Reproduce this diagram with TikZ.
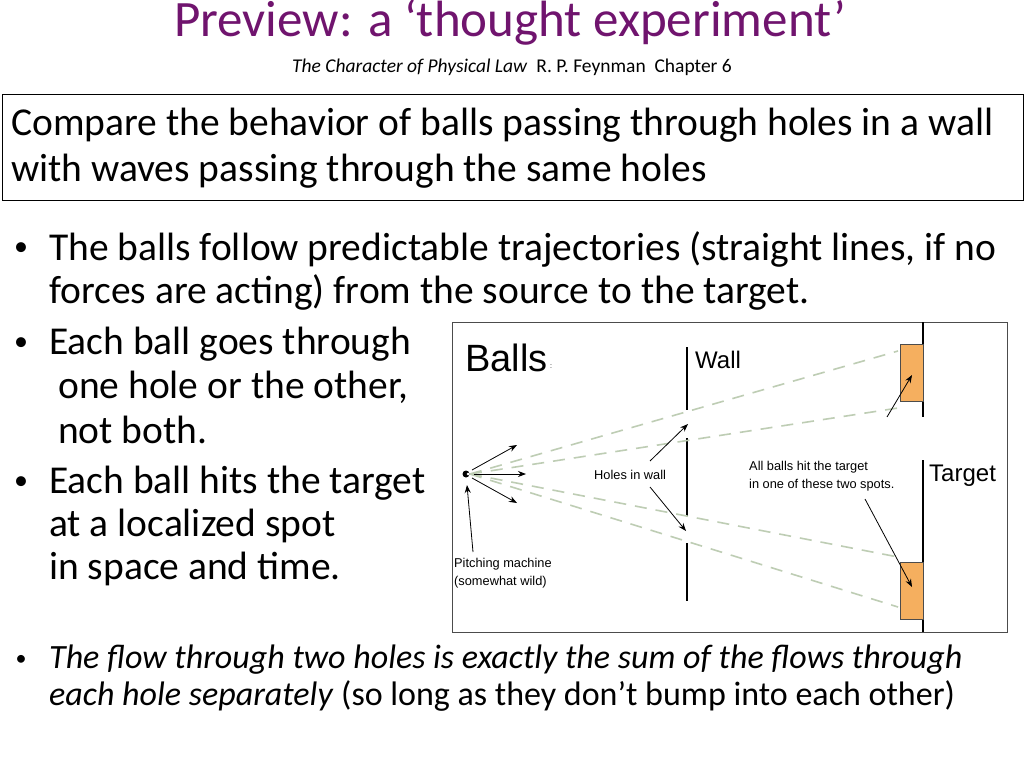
\documentclass[tikz,border=0pt]{standalone}
\usepackage{fontspec}
\setmainfont{Carlito}
\newfontfamily\arial{Liberation Sans}
\usetikzlibrary{arrows.meta}
\definecolor{titlec}{RGB}{112,20,110}
\definecolor{orangec}{RGB}{245,175,95}
\definecolor{dashc}{RGB}{190,205,180}
\begin{document}
\begin{tikzpicture}[x=1pt,y=-1pt,
  body/.style={anchor=west,inner sep=0pt,font=\fontsize{39.5}{39.5}\selectfont},
  bul/.style={anchor=center,inner sep=0pt,font=\fontsize{28}{28}\selectfont},
  small/.style={anchor=west,inner sep=0pt,align=left,font=\arial\fontsize{12.8}{18}\selectfont},
  traj/.style={dashc,line width=1.6pt,dash pattern=on 12pt off 9pt},
  arr/.style={-{Stealth[length=8pt,width=6pt]},line width=0.8pt}]
\useasboundingbox (0,0) rectangle (1024,768);
\fill[white] (0,0) rectangle (1024,768);
\node[inner sep=0pt,text=titlec,font=\fontsize{51}{51}\selectfont] (title) at (510,22) {Preview: a ‘thought experiment’};
\node[inner sep=0pt,font=\fontsize{19.5}{19.5}\selectfont] (sub) at (512,67) {\textit{The Character of Physical Law}\ \ R. P. Feynman\ \ Chapter 6};
\draw[line width=0.8pt] (2,94) rectangle (1023,200);
\node[body,align=left,font=\fontsize{39.5}{46}\selectfont] (cmp) at (11,148) {Compare the behavior of balls passing through holes in a wall\\with waves passing through the same holes};
\node[bul] (d1) at (21,249) {•};
\node[body] (b1) at (49,249) {The balls follow predictable trajectories (straight lines, if no};
\node[body] (b1b) at (49,292) {forces are acting) from the source to the target.};
\node[bul] (d2) at (21,344) {•};
\node[body] (b2) at (49,344) {Each ball goes through};
\node[body] (b2b) at (58,387) {one hole or the other,};
\node[body] (b2c) at (58,430) {not both.};
\node[bul] (d3) at (21,483) {•};
\node[body] (b3) at (49,483) {Each ball hits the target};
\node[body] (b3b) at (49,526) {at a localized spot};
\node[body] (b3c) at (49,569) {in space and time.};
\node[bul,font=\fontsize{22}{22}\selectfont] (d4) at (21,660) {•};
\node[body,font=\fontsize{34}{34}\selectfont] (b4) at (49,660) {\textit{The flow through two holes is exactly the sum of the flows through}};
\node[body,font=\fontsize{34}{34}\selectfont] (b4b) at (49,696) {\textit{each hole separately} (so long as they don’t bump into each other)};
% diagram
\draw[line width=0.8pt,black!70] (452,322) rectangle (1007,632);
\node[small,font=\arial\fontsize{38}{38}\selectfont] (balls) at (465,358) {Balls};
\node[small,font=\arial\fontsize{7}{7}\selectfont] (colon) at (550,367) {:};
\node[small,font=\arial\fontsize{24}{24}\selectfont] (wall) at (695,360) {Wall};
\node[small,font=\arial\fontsize{24}{24}\selectfont] (target) at (929,476) {Target};
\node[small] (holes) at (594,475) {Holes in wall};
\node[small] (all) at (749,476) {All balls hit the target\\in one of these two spots.};
\node[small] (pitch) at (454,573) {Pitching machine\\(somewhat wild)};
\draw[line width=1.5pt] (687,347) -- (687,410) (687,438) -- (687,517) (687,543) -- (687,601);
\draw[line width=1.5pt] (923,322) -- (923,417) (923,460) -- (923,632);
\draw[fill=orangec,draw=black!70] (900,344) rectangle (923,401);
\draw[fill=orangec,draw=black!70] (900,562) rectangle (923,619);
\coordinate (src) at (470,474);
\coordinate (t1) at (898,351); \coordinate (t2) at (898,408);
\coordinate (t3) at (898,557); \coordinate (t4) at (898,607);
\foreach \t in {t1,t2,t3,t4} \draw[traj] (src) -- (\t);
\fill (466,474) circle (3.5pt);
\fill[white] (468,474) circle (1.5pt);
\draw[arr] (472,470) -- (517,445);
\draw[arr] (474,474) -- (526,474);
\draw[arr] (472,478) -- (517,503);
\draw[arr] (650,461) -- (688,424);
\draw[arr] (650,487) -- (686,531);
\draw[arr] (473,552) -- (467,485);
\draw[arr] (887,417) -- (912,375);
\draw[arr] (865,499) -- (912,587);
\end{tikzpicture}
\end{document}
